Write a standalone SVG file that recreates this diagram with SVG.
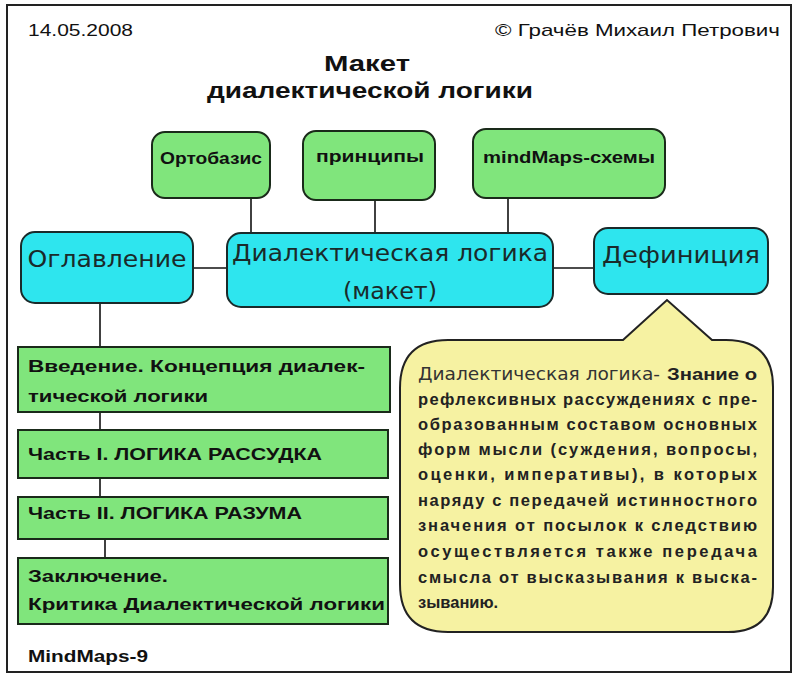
<svg xmlns="http://www.w3.org/2000/svg" width="800" height="682" viewBox="0 0 800 682">
<style>
.frame{fill:#fff;stroke:#222;stroke-width:2}
.g{fill:#80e57c;stroke:#1a2a1a;stroke-width:2}
.c{fill:#2ee5ee;stroke:#1a2a2a;stroke-width:2}
.y{fill:#f6f2a2;stroke:#222;stroke-width:2}
.ln{stroke:#111;stroke-width:1.6;fill:none}
.hd{font-family:"Liberation Sans",Arial,sans-serif;font-size:17px;fill:#111}
.tt{font-family:"Liberation Sans",Arial,sans-serif;font-size:22px;font-weight:bold;fill:#111;text-anchor:middle}
.tn{font-family:"Liberation Sans",Arial,sans-serif;font-size:17px;font-weight:bold;fill:#111;text-anchor:middle}
.big{font-family:"DejaVu Sans",Verdana,sans-serif;font-size:23px;fill:#1a2a2a;text-anchor:middle}
.lst{font-family:"Liberation Sans",Arial,sans-serif;font-size:17px;font-weight:bold;fill:#111}
.cb{font-family:"Liberation Sans",Arial,sans-serif;font-size:16.5px;font-weight:bold;fill:#222}
.cn{font-family:"DejaVu Sans",Verdana,sans-serif;font-size:17px;fill:#333}
</style>
<rect class="frame" x="7" y="5" width="784" height="667"/>
<g id="header">
<text class="hd" x="28" y="36" textLength="105" lengthAdjust="spacingAndGlyphs">14.05.2008</text>
<text class="hd" x="495" y="36" textLength="285" lengthAdjust="spacingAndGlyphs">© Грачёв Михаил Петрович</text>
<text class="tt" x="367" y="71" textLength="86" lengthAdjust="spacingAndGlyphs">Макет</text>
<text class="tt" x="370" y="98" textLength="326" lengthAdjust="spacingAndGlyphs">диалектической логики</text>
</g>
<g id="connectors">
<line class="ln" x1="251" y1="197" x2="251" y2="234"/>
<line class="ln" x1="375" y1="200" x2="375" y2="234"/>
<line class="ln" x1="508" y1="198" x2="508" y2="234"/>
<line class="ln" x1="193" y1="268" x2="228" y2="268"/>
<line class="ln" x1="553" y1="268" x2="594" y2="268"/>
<line class="ln" x1="100" y1="303" x2="100" y2="347"/>
<line class="ln" x1="100" y1="412" x2="100" y2="430"/>
<line class="ln" x1="100" y1="478" x2="100" y2="497"/>
<line class="ln" x1="105" y1="539" x2="105" y2="558"/>
</g>
<g id="ortobazis">
<rect class="g" x="152" y="132" width="118" height="66" rx="13"/>
<text class="tn" x="211" y="164" textLength="102" lengthAdjust="spacingAndGlyphs">Ортобазис</text>
</g>
<g id="principy">
<rect class="g" x="303" y="131" width="132" height="69" rx="13"/>
<text class="tn" x="370" y="162" textLength="108" lengthAdjust="spacingAndGlyphs">принципы</text>
</g>
<g id="mindmaps">
<rect class="g" x="473" y="129" width="192" height="69" rx="13"/>
<text class="tn" x="569" y="163" textLength="172" lengthAdjust="spacingAndGlyphs">mindMaps-схемы</text>
</g>
<g id="oglavlenie">
<rect class="c" x="21" y="232" width="172" height="71" rx="14"/>
<text class="big" x="107" y="267" textLength="159" lengthAdjust="spacingAndGlyphs">Оглавление</text>
</g>
<g id="center">
<rect class="c" x="227" y="233" width="326" height="74" rx="14"/>
<text class="big" x="390" y="261" textLength="316" lengthAdjust="spacingAndGlyphs">Диалектическая логика</text>
<text class="big" x="390" y="299" textLength="94" lengthAdjust="spacingAndGlyphs">(макет)</text>
</g>
<g id="definicia">
<rect class="c" x="594" y="228" width="174" height="66" rx="14"/>
<text class="big" x="681" y="263" textLength="158" lengthAdjust="spacingAndGlyphs">Дефиниция</text>
</g>
<g id="vvedenie">
<rect class="g" x="18" y="347" width="372" height="65"/>
<text class="lst" x="28" y="372" textLength="337" lengthAdjust="spacingAndGlyphs">Введение. Концепция диалек-</text>
<text class="lst" x="28" y="402" textLength="180" lengthAdjust="spacingAndGlyphs">тической логики</text>
</g>
<g id="chast1">
<rect class="g" x="18" y="430" width="370" height="48"/>
<text class="lst" x="28" y="460" textLength="294" lengthAdjust="spacingAndGlyphs">Часть I. ЛОГИКА РАССУДКА</text>
</g>
<g id="chast2">
<rect class="g" x="18" y="497" width="370" height="42"/>
<text class="lst" x="28" y="519" textLength="274" lengthAdjust="spacingAndGlyphs">Часть II. ЛОГИКА РАЗУМА</text>
</g>
<g id="zakl">
<rect class="g" x="18" y="558" width="370" height="66"/>
<text class="lst" x="28" y="582" textLength="140" lengthAdjust="spacingAndGlyphs">Заключение.</text>
<text class="lst" x="28" y="610" textLength="357" lengthAdjust="spacingAndGlyphs">Критика Диалектической логики</text>
</g>
<g id="footer">
<text class="hd" x="28" y="662" font-weight="bold" textLength="120" lengthAdjust="spacingAndGlyphs">MindMaps-9</text>
</g>
<g id="callout">
<path class="y" d="M448,340 L623,340 L667,300 L712,340 L726,340 Q773,340 773,387 L773,587 Q773,632 728,632 L448,632 Q400,632 400,584 L400,388 Q400,340 448,340 Z"/>
<text class="cn" x="418" y="380" textLength="242" lengthAdjust="spacingAndGlyphs">Диалектическая логика-</text>
<text class="cb" x="667" y="380" textLength="90" lengthAdjust="spacingAndGlyphs">Знание о</text>
<text class="cb" x="418" y="405" textLength="339" lengthAdjust="spacing">рефлексивных рассуждениях с пре-</text>
<text class="cb" x="418" y="430" textLength="339" lengthAdjust="spacing">образованным составом основных</text>
<text class="cb" x="418" y="455" textLength="339" lengthAdjust="spacing">форм мысли (суждения, вопросы,</text>
<text class="cb" x="418" y="480" textLength="339" lengthAdjust="spacing">оценки, императивы), в которых</text>
<text class="cb" x="418" y="506" textLength="339" lengthAdjust="spacing">наряду с передачей истинностного</text>
<text class="cb" x="418" y="531" textLength="339" lengthAdjust="spacing">значения от посылок к следствию</text>
<text class="cb" x="418" y="557" textLength="339" lengthAdjust="spacing">осуществляется также передача</text>
<text class="cb" x="418" y="583" textLength="339" lengthAdjust="spacing">смысла от высказывания к выска-</text>
<text class="cb" x="418" y="608">зыванию.</text>
</g>
</svg>
